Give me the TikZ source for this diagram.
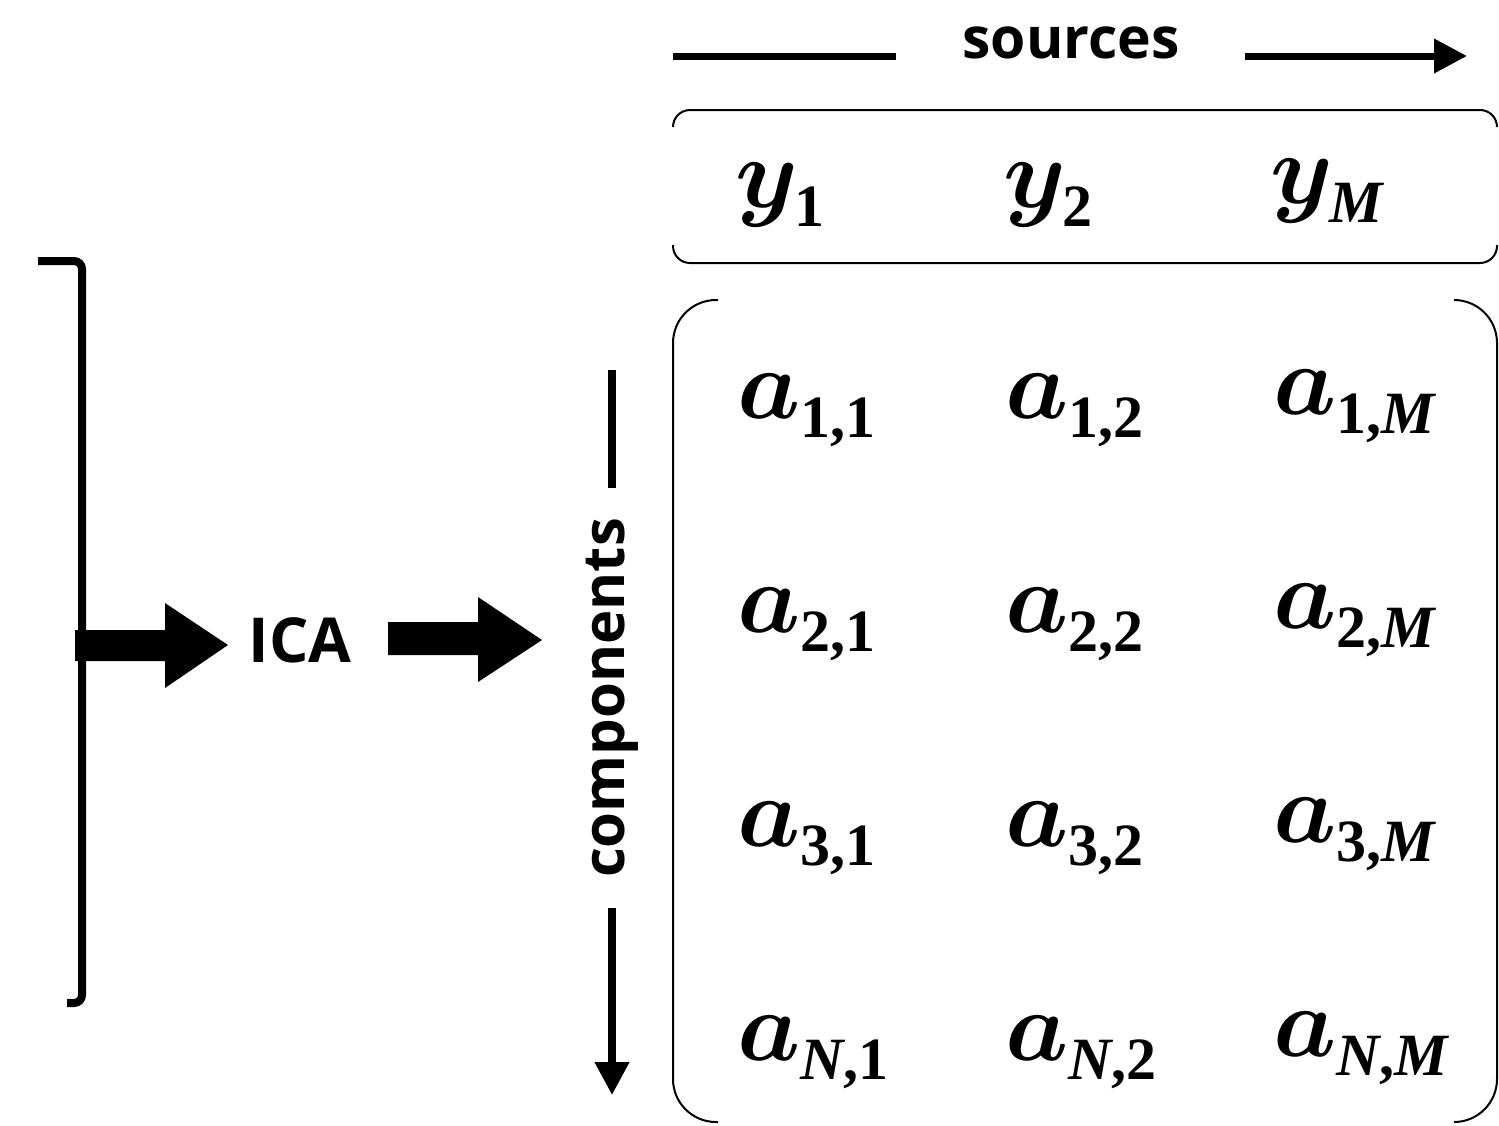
\RequirePackage{fix-cm}
\documentclass[tikz,border=0pt]{standalone}
\usepackage[no-math]{fontspec}
\setmainfont{Open Sans}
\newfontfamily\subfont{Liberation Serif}
\usetikzlibrary{arrows.meta}
% bold italic math-style letter (cmmib) and lowered bold subscript
\newcommand\mletter[1]{{\fontsize{100}{100}\usefont{OML}{cmm}{b}{it}#1}}
\newcommand\msub[1]{\raisebox{-19pt}{\fontsize{60}{60}\subfont\bfseries #1}}
\newcommand\subit[1]{{\itshape #1}}
\begin{document}
\begin{tikzpicture}[x=1pt,y=-1pt,
  lbl/.style={inner sep=0pt, font=\fontsize{57}{57}\selectfont\bfseries},
  mlbl/.style={inner sep=0pt},
  thinbox/.style={line width=2pt, rounded corners=#1},
  guide/.style={line width=7.5pt},
  tipped/.style={-{Triangle[length=33pt,width=33pt]}},
  bracketline/.style={line width=8pt, rounded corners=8pt}]
\useasboundingbox (0,0) rectangle (1499,1125);

% left bracket
\coordinate (b1) at (38,261);
\coordinate (b2) at (82,261);
\coordinate (b3) at (82,1003);
\coordinate (b4) at (67,1003);
\draw[bracketline] (b1) -- (b2) -- (b3) -- (b4);

% block arrows
\fill (75,630) -- (165,630) -- (165,603) -- (228,645) -- (165,688) -- (165,661) -- (75,661) -- cycle;
\fill (388,622) -- (478,622) -- (478,597) -- (542,640) -- (478,682) -- (478,655) -- (388,655) -- cycle;

\node[lbl, font=\fontsize{62}{62}\selectfont\bfseries, anchor=base] (ica) at (300,662) {ICA};

% components axis
\node[lbl, font=\fontsize{58}{58}\selectfont\bfseries, rotate=90] (comp) at (612,698) {components};
\coordinate (c1) at (612,370);
\coordinate (c2) at (612,488);
\coordinate (c3) at (612,908);
\coordinate (c4) at (612,1095);
\draw[guide] (c1) -- (c2);
\draw[guide, tipped] (c3) -- (c4);

% sources axis
\node[lbl, anchor=base] (src) at (1071,58) {sources};
\coordinate (s1) at (673,56);
\coordinate (s2) at (896,56);
\coordinate (s3) at (1245,56);
\coordinate (s4) at (1467,56);
\draw[guide, line width=7pt] (s1) -- (s2);
\draw[guide, line width=7pt, tipped] (s3) -- (s4);

% top box (horizontal brackets)
\draw[thinbox=17] (673,127) -- (673,110) -- (1497,110) -- (1497,127);
\draw[thinbox=17] (673,245) -- (673,263) -- (1497,263) -- (1497,245);

% bottom box (vertical brackets)
\draw[thinbox=43] (718,300) -- (673,300) -- (673,1122) -- (718,1122);
\draw[thinbox=43] (1454,300) -- (1497,300) -- (1497,1122) -- (1454,1122);

% y row
\node[mlbl, anchor=base west] (y1) at (735,207) {\mletter{y}\msub{1}};
\node[mlbl, anchor=base west] (y2) at (1003,207) {\mletter{y}\msub{2}};
\node[mlbl, anchor=base west] (yM) at (1270,203) {\mletter{y}\msub{\subit{M}}};

% a rows
\node[mlbl, anchor=base west] (a11) at (737,418) {\mletter{a}\msub{1,1}};
\node[mlbl, anchor=base west] (a12) at (1005,418) {\mletter{a}\msub{1,2}};
\node[mlbl, anchor=base west] (a1M) at (1273,414) {\mletter{a}\msub{1,\subit{M}}};

\node[mlbl, anchor=base west] (a21) at (737,632) {\mletter{a}\msub{2,1}};
\node[mlbl, anchor=base west] (a22) at (1005,632) {\mletter{a}\msub{2,2}};
\node[mlbl, anchor=base west] (a2M) at (1273,628) {\mletter{a}\msub{2,\subit{M}}};

\node[mlbl, anchor=base west] (a31) at (737,846) {\mletter{a}\msub{3,1}};
\node[mlbl, anchor=base west] (a32) at (1005,846) {\mletter{a}\msub{3,2}};
\node[mlbl, anchor=base west] (a3M) at (1273,842) {\mletter{a}\msub{3,\subit{M}}};

\node[mlbl, anchor=base west] (aN1) at (737,1060) {\mletter{a}\msub{\subit{N},1}};
\node[mlbl, anchor=base west] (aN2) at (1005,1060) {\mletter{a}\msub{\subit{N},2}};
\node[mlbl, anchor=base west] (aNM) at (1273,1056) {\mletter{a}\msub{\subit{N},\subit{M}}};
\end{tikzpicture}
\end{document}
